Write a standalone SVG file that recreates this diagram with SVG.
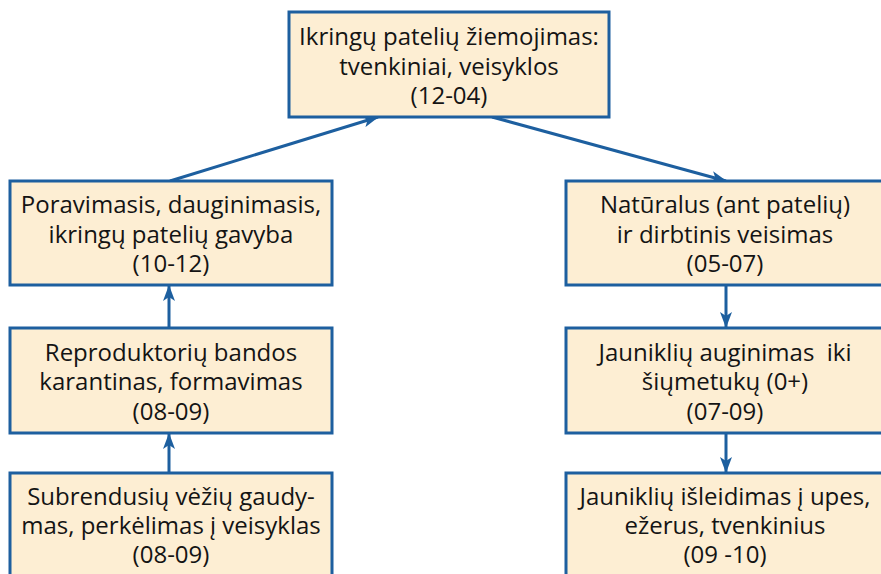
<svg xmlns="http://www.w3.org/2000/svg" width="881" height="574" viewBox="0 0 881 574">
<defs>
<style>
.box{fill:#fdeed3;stroke:#1d5f9f;stroke-width:3}
.t{font-family:"Open Sans","Noto Sans",sans-serif;font-size:24px;fill:#141414;text-anchor:middle}
.c{stroke:#1d5f9f;stroke-width:3;fill:none;marker-end:url(#ah)}
</style>
<marker id="ah" viewBox="0 0 16 12" refX="15" refY="6" markerWidth="16" markerHeight="12" markerUnits="userSpaceOnUse" orient="auto">
<path d="M0,0 L16,6 L0,12 L4,6 z" fill="#1d5f9f"/>
</marker>
</defs>
<g id="connectors">
<line class="c" x1="170" y1="181" x2="378" y2="117"/>
<line class="c" x1="492" y1="117" x2="726" y2="181"/>
<line class="c" x1="169" y1="328" x2="169" y2="286"/>
<line class="c" x1="169" y1="473" x2="169" y2="434"/>
<line class="c" x1="726" y1="285" x2="726" y2="327"/>
<line class="c" x1="726" y1="433" x2="726" y2="472"/>
</g>
<g id="n-top">
<rect class="box" x="289" y="12" width="320" height="105"/>
<text class="t" x="449" y="45">Ikringų patelių žiemojimas:</text>
<text class="t" x="449" y="75">tvenkiniai, veisyklos</text>
<text class="t" x="449" y="104">(12-04)</text>
</g>
<g id="n-l1">
<rect class="box" x="10" y="181" width="322" height="104"/>
<text class="t" x="171" y="213">Poravimasis, dauginimasis,</text>
<text class="t" x="171" y="243">ikringų patelių gavyba</text>
<text class="t" x="171" y="272">(10-12)</text>
</g>
<g id="n-l2">
<rect class="box" x="10" y="328" width="322" height="105"/>
<text class="t" x="171" y="361">Reproduktorių bandos</text>
<text class="t" x="171" y="390">karantinas, formavimas</text>
<text class="t" x="171" y="420">(08-09)</text>
</g>
<g id="n-l3">
<rect class="box" x="10" y="473" width="322" height="110"/>
<text class="t" x="171" y="505">Subrendusių vėžių gaudy-</text>
<text class="t" x="171" y="534">mas, perkėlimas į veisyklas</text>
<text class="t" x="171" y="563">(08-09)</text>
</g>
<g id="n-r1">
<rect class="box" x="566" y="181" width="322" height="104"/>
<text class="t" x="725" y="213">Natūralus (ant patelių)</text>
<text class="t" x="725" y="243">ir dirbtinis veisimas</text>
<text class="t" x="725" y="272">(05-07)</text>
</g>
<g id="n-r2">
<rect class="box" x="566" y="328" width="322" height="105"/>
<text class="t" x="725" y="361" xml:space="preserve">Jauniklių auginimas  iki</text>
<text class="t" x="725" y="390">šiųmetukų (0+)</text>
<text class="t" x="725" y="420">(07-09)</text>
</g>
<g id="n-r3">
<rect class="box" x="566" y="473" width="322" height="110"/>
<text class="t" x="725" y="505">Jauniklių išleidimas į upes,</text>
<text class="t" x="725" y="534">ežerus, tvenkinius</text>
<text class="t" x="725" y="563">(09 -10)</text>
</g>
</svg>
